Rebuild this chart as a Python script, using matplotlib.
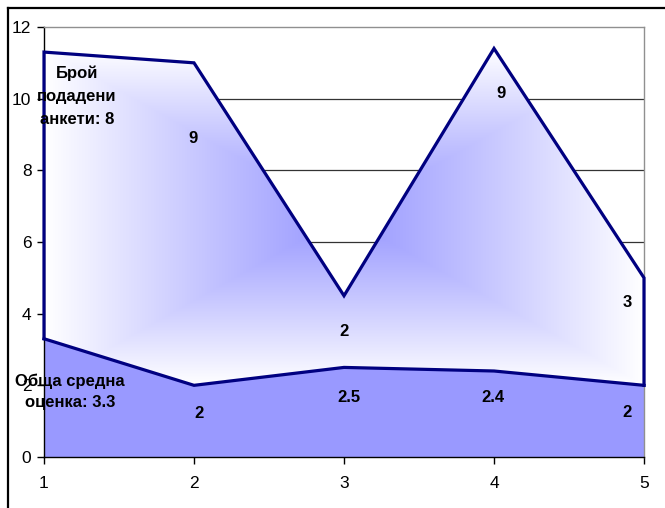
import numpy as np
import matplotlib
matplotlib.use("Agg")
import matplotlib.pyplot as plt
from matplotlib.patches import Polygon
from matplotlib.lines import Line2D

plt.rcParams['font.family'] = ['Liberation Sans', 'DejaVu Sans']

# ---- data ----
x = [1, 2, 3, 4, 5]
avg_score = [3.3, 2, 2.5, 2.4, 2]          # Обща средна оценка (bottom series)
num_surveys = [8, 9, 2, 9, 3]              # Брой подадени анкети (stacked on top)
avg_label_first = "Обща средна\nоценка: "
cnt_label_first = "Брой\nподадени\nанкети: "
yticks = [0, 2, 4, 6, 8, 10, 12]

# ---- style ----
navy = '#000080'
fill_blue = '#9999FF'
W, H = 665, 508
fig = plt.figure(figsize=(W / 100, H / 100), dpi=100)
ax = fig.add_axes([44 / W, (H - 457) / H, 600 / W, 430 / H])

xa = np.array(x, float)
bot = np.array(avg_score, float)
top = bot + np.array(num_surveys, float)

# bottom series
ax.fill_between(xa, 0, bot, color=fill_blue, lw=0, zorder=2)

# top series: rectangular "from center" gradient clipped to polygon
poly_xy = np.vstack([np.column_stack([xa, top]), np.column_stack([xa[::-1], bot[::-1]])])
poly = Polygon(poly_xy, closed=True, facecolor='none', edgecolor='none', transform=ax.transData)
ax.add_patch(poly)
y0, y1 = bot.min(), top.max()
gx = np.linspace(xa.min(), xa.max(), 500)
gy = np.linspace(y0, y1, 500)
GX, GY = np.meshgrid(gx, gy)
cx, cy = (xa.min() + xa.max()) / 2, (y0 + y1) / 2
hw, hh = (xa.max() - xa.min()) / 2, (y1 - y0) / 2
t = np.maximum(np.abs(GX - cx) / hw, np.abs(GY - cy) / hh)
t = np.clip(t, 0, 1) ** 1.1
c0 = np.array([0x99, 0x99, 0xFF]) / 255.0
c1 = np.array([1.0, 1.0, 1.0])
img = c0[None, None, :] * (1 - t[..., None]) + c1[None, None, :] * t[..., None]
im = ax.imshow(img, extent=[xa.min(), xa.max(), y0, y1], origin='lower',
               aspect='auto', interpolation='bilinear', zorder=2)
im.set_clip_path(poly)

# outlines
lw = 2.3
ax.plot(xa, bot, color=navy, lw=lw, zorder=4, solid_joinstyle='miter', clip_on=False)
ox = np.concatenate([[xa[0]], xa, [xa[-1]]])
oy = np.concatenate([[bot[0]], top, [bot[-1]]])
ax.plot(ox, oy, color=navy, lw=lw, zorder=4, solid_joinstyle='miter', clip_on=False)

# axes
ax.set_xlim(1, 5)
ax.set_ylim(0, 12)
ax.set_xticks(x)
ax.set_yticks(yticks)
ax.set_xticklabels([str(v) for v in x])
ax.set_yticklabels([str(v) for v in yticks])
ax.tick_params(axis='both', direction='out', length=5, width=1, colors='black',
               labelsize=12.5, pad=4)
ax.tick_params(axis='x', pad=9)
for v in yticks[1:-1]:
    ax.axhline(v, color='#333333', lw=0.9, zorder=1)
ax.spines['left'].set_color('black')
ax.spines['bottom'].set_color('black')
ax.spines['top'].set_color('#909090')
ax.spines['right'].set_color('#909090')
for s in ax.spines.values():
    s.set_linewidth(1)
    s.set_zorder(3)
ax.set_facecolor('white')

# data labels (offsets in pixels relative to the data point: dx right, dy down)
top_off = [(33, 44), (-1, 76), (0, 36), (7, 45), (-17, 25)]
bot_off = [(26, 53), (5, 28), (5, 30), (-1, 26), (-17, 27)]

def fmt(v):
    return ('%g' % v)

for i in range(len(x)):
    txt = (cnt_label_first if i == 0 else '') + fmt(num_surveys[i])
    dx, dy = top_off[i]
    ax.annotate(txt, (xa[i], top[i]), xytext=(dx * 0.72, -dy * 0.72),
                textcoords='offset points', ha='center', va='center',
                fontsize=12, fontweight='bold', linespacing=1.65, zorder=6,
                annotation_clip=False)
    txt = (avg_label_first if i == 0 else '') + fmt(avg_score[i])
    dx, dy = bot_off[i]
    ax.annotate(txt, (xa[i], bot[i]), xytext=(dx * 0.72, -dy * 0.72),
                textcoords='offset points', ha='center', va='center',
                fontsize=12, fontweight='bold', linespacing=1.45, zorder=6,
                annotation_clip=False)

# chart area border (partially cropped)
fig.add_artist(Line2D([8 / W, 1.0], [1 - 8 / H, 1 - 8 / H], color='black', lw=1.6,
                      transform=fig.transFigure))
fig.add_artist(Line2D([8 / W, 8 / W], [1 - 8 / H, 0.0], color='black', lw=1.6,
                      transform=fig.transFigure))

fig.savefig('out.png', dpi=100)
